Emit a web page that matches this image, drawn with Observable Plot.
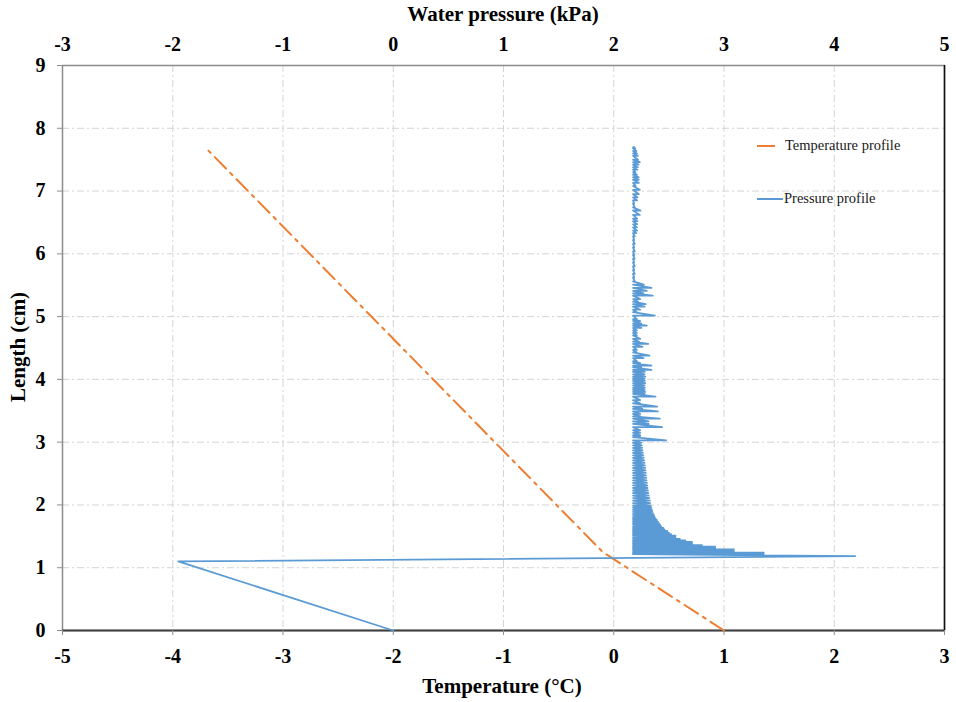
<!DOCTYPE html>
<html>
<head>
<meta charset="utf-8">
<script src="https://cdn.jsdelivr.net/npm/d3@7"></script>
<script src="https://cdn.jsdelivr.net/npm/@observablehq/plot@0.6"></script>
<style>
  body { margin: 0; background: #fff; }
  #wrap { position: relative; width: 956px; height: 702px; font-family: "Liberation Serif", "Times New Roman", serif; }
  .title { position: absolute; font-weight: bold; font-size: 21px; color: #000; white-space: nowrap; transform: translate(-50%, -50%); }
  .legend { position: absolute; font-size: 14.5px; color: #1a1a1a; white-space: nowrap; display: flex; align-items: center; }
  .legend .sw { display: inline-block; height: 0; border-top: 2px solid; margin-right: 8px; }
</style>
</head>
<body>
<div id="wrap"></div>
<script>
// Axis ticks
const tempTicks = [-5, -4, -3, -2, -1, 0, 1, 2, 3];     // bottom axis, °C
const pressureOffset = 2;                                 // top axis reads °C + 2 as kPa
const lengthTicks = [0, 1, 2, 3, 4, 5, 6, 7, 8, 9];

// Temperature profile (°C vs cm)
const tempC = [1, -0.1, -3.68];
const tempLen = [0, 1.25, 7.65];

// Pressure profile: lead-in from the base, then spikes that leave the baseline
const baseKPa = 2.175;
const leadKPa = [0, -1.95, 4.19];
const leadLen = [0, 1.10, 1.185];
const spikeLen = [
  1.215, 1.24, 1.265, 1.29, 1.31, 1.335, 1.36, 1.385, 1.41, 1.435, 1.46, 1.485, 1.51, 1.535, 1.56, 1.585,
  1.61, 1.635, 1.66, 1.685, 1.71, 1.735, 1.76, 1.785, 1.81, 1.84, 1.87, 1.90, 1.93, 1.96, 1.99, 2.03,
  2.07, 2.11, 2.15, 2.19, 2.23, 2.27, 2.31, 2.35, 2.39, 2.43, 2.47, 2.51, 2.55, 2.59, 2.63, 2.67,
  2.71, 2.75, 2.79, 2.83, 2.87, 2.91, 2.95, 2.99,
  3.03, 3.08, 3.11, 3.15, 3.19, 3.24, 3.29, 3.33, 3.376, 3.41, 3.45, 3.49, 3.53, 3.567, 3.62, 3.67,
  3.726, 3.77, 3.80, 3.835, 3.87, 3.905, 3.94, 3.975, 4.01, 4.045, 4.08, 4.12, 4.15, 4.19, 4.22, 4.26,
  4.29, 4.34, 4.38, 4.43, 4.47, 4.52, 4.565, 4.60, 4.645, 4.70, 4.74, 4.78, 4.82, 4.857, 4.89, 4.93,
  4.96, 5.016, 5.07, 5.11, 5.16, 5.20, 5.24, 5.28, 5.334, 5.37, 5.41, 5.457, 5.51,
  5.56, 5.62, 5.68, 5.74, 5.80, 5.86, 5.92, 5.98, 6.04, 6.10, 6.16, 6.22, 6.28, 6.33, 6.37, 6.42,
  6.47, 6.52, 6.56, 6.62, 6.69, 6.74, 6.80, 6.85, 6.90, 6.95, 7.02, 7.08, 7.13, 7.18, 7.22, 7.26,
  7.30, 7.34, 7.38, 7.42, 7.46, 7.50, 7.56, 7.60, 7.64, 7.68, 7.70
];
const spikeKPa = [
  3.36, 3.36, 3.09, 3.09, 2.92, 2.92, 2.80, 2.71, 2.71, 2.65, 2.60, 2.56, 2.56, 2.52, 2.50, 2.485,
  2.46, 2.45, 2.43, 2.42, 2.41, 2.40, 2.39, 2.38, 2.37, 2.365, 2.355, 2.35, 2.345, 2.34, 2.335, 2.33,
  2.327, 2.323, 2.318, 2.314, 2.31, 2.306, 2.303, 2.30, 2.297, 2.295, 2.292, 2.29, 2.288, 2.285, 2.282, 2.279,
  2.276, 2.272, 2.268, 2.265, 2.261, 2.258, 2.254, 2.25,
  2.475, 2.24, 2.24, 2.24, 2.24, 2.439, 2.315, 2.315, 2.418, 2.24, 2.24, 2.40, 2.26, 2.394, 2.24, 2.24,
  2.379, 2.28, 2.285, 2.28, 2.282, 2.28, 2.285, 2.282, 2.28, 2.285, 2.28, 2.282, 2.342, 2.25, 2.342, 2.24,
  2.21, 2.27, 2.324, 2.21, 2.21, 2.26, 2.312, 2.23, 2.24, 2.21, 2.21, 2.21, 2.25, 2.30, 2.25, 2.24,
  2.21, 2.373, 2.21, 2.24, 2.28, 2.29, 2.22, 2.24, 2.354, 2.27, 2.30, 2.342, 2.273,
  2.19, 2.185, 2.19, 2.185, 2.19, 2.185, 2.19, 2.185, 2.19, 2.185, 2.19, 2.185, 2.19, 2.205, 2.212, 2.21,
  2.212, 2.215, 2.212, 2.236, 2.243, 2.19, 2.185, 2.212, 2.215, 2.227, 2.236, 2.20, 2.227, 2.227, 2.227, 2.21,
  2.197, 2.215, 2.218, 2.225, 2.236, 2.22, 2.218, 2.21, 2.206, 2.195, 2.185
];

const ORANGE = "#ED7D31";
const BLUE = "#5B9BD5";

const tempRows = tempC.map((t, i) => ({t, len: tempLen[i]}));
const pressureRows = leadKPa.map((p, i) => ({p, len: leadLen[i]}));
spikeLen.forEach((len, i) => {
  pressureRows.push({p: baseKPa, len});
  pressureRows.push({p: spikeKPa[i], len});
});

const gridDash = "7,3,2,3";
const tickFont = {fontSize: 20, fontWeight: "bold"};

const chart = Plot.plot({
  width: 956,
  height: 702,
  marginLeft: 62,
  marginRight: 12,
  marginTop: 65,
  marginBottom: 72,
  style: {
    fontFamily: "'Liberation Serif', 'Times New Roman', serif",
    fontSize: "20px",
    fontWeight: "bold",
    color: "#000",
    background: "#fff",
    overflow: "visible"
  },
  x: {domain: [-5, 3]},
  y: {domain: [0, 9]},
  marks: [
    Plot.gridX(tempTicks, {stroke: "#d4d4d4", strokeOpacity: 1, strokeDasharray: gridDash}),
    Plot.gridY(lengthTicks, {stroke: "#d4d4d4", strokeOpacity: 1, strokeDasharray: gridDash}),
    Plot.frame({stroke: "#8c8c8c", strokeWidth: 1.5}),
    Plot.ruleX([3], {stroke: "#111", strokeWidth: 1.5}),
    Plot.ruleY([0], {stroke: "#404040", strokeWidth: 2}),
    Plot.axisX(tempTicks, {anchor: "bottom", tickSize: 5, tickPadding: 13, tickFormat: d => String(d), label: null, stroke: "#8c8c8c", ...tickFont}),
    Plot.axisX(tempTicks, {anchor: "top", tickSize: 0, tickPadding: 15, tickFormat: d => String(d + pressureOffset), label: null, ...tickFont}),
    Plot.axisY(lengthTicks, {anchor: "left", tickSize: 5, tickPadding: 12, tickFormat: d => String(d), label: null, stroke: "#8c8c8c", ...tickFont}),
    Plot.line(tempRows, {x: "t", y: "len", stroke: ORANGE, strokeWidth: 2, strokeDasharray: "16,6,3,6"}),
    Plot.line(pressureRows, {x: d => d.p - pressureOffset, y: "len", stroke: BLUE, strokeWidth: 1.8, curve: "linear"})
  ]
});

const wrap = document.getElementById("wrap");
wrap.appendChild(chart);

function addTitle(text, x, y, rotate) {
  const el = document.createElement("div");
  el.className = "title";
  el.textContent = text;
  el.style.left = x + "px";
  el.style.top = y + "px";
  if (rotate) el.style.transform = "translate(-50%, -50%) rotate(-90deg)";
  wrap.appendChild(el);
}
addTitle("Water pressure (kPa)", 503, 14);
addTitle("Temperature (°C)", 502, 686);
addTitle("Length (cm)", 18, 347, true);

function addLegend(text, color, x, y, swatchWidth, gap) {
  const el = document.createElement("div");
  el.className = "legend";
  el.style.left = x + "px";
  el.style.top = (y - 10) + "px";
  const sw = document.createElement("span");
  sw.className = "sw";
  sw.style.width = swatchWidth + "px";
  sw.style.borderColor = color;
  sw.style.marginRight = gap + "px";
  el.appendChild(sw);
  el.appendChild(document.createTextNode(text));
  wrap.appendChild(el);
}
addLegend("Temperature profile", ORANGE, 757, 147, 18, 10);
addLegend("Pressure profile", BLUE, 757, 200, 26, 1);
</script>
</body>
</html>
